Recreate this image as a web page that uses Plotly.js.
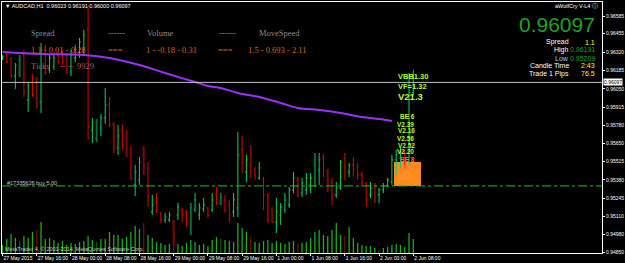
<!DOCTYPE html>
<html><head><meta charset="utf-8">
<script src="https://cdn.plot.ly/plotly-3.0.1.min.js"></script>
<style>html,body{margin:0;padding:0;background:#000;}#chart{width:625px;height:263px;}</style>
</head><body><div id="chart"></div>
<script>
// ---- data (AUDCAD H1) ----
const open = [0.96277,0.96306,0.96262,0.96144,0.96174,0.96299,0.95968,0.96144,0.96122,0.95953,
0.96350,0.96189,0.96211,0.96299,0.96321,0.96299,0.96174,0.96277,0.96299,0.96336,
0.96483,0.95748,0.95689,0.95762,0.95836,0.95931,0.95784,0.95615,0.95748,0.95696,
0.95601,0.95343,0.95380,0.95564,0.95468,0.95145,0.95233,0.95137,0.95086,0.95086,
0.95071,0.95123,0.95160,0.95145,0.95057,0.95160,0.95123,0.95167,0.95174,0.95160,
0.95270,0.95211,0.95233,0.95196,0.95145,0.95174,0.95601,0.95439,0.95601,0.95454,
0.95395,0.95380,0.95270,0.95160,0.95071,0.95123,0.95160,0.95196,0.95307,0.95380,
0.95284,0.95307,0.95343,0.95395,0.95454,0.95542,0.95439,0.95358,0.95270,0.95321,
0.95542,0.95439,0.95490,0.95468,0.95417,0.95358,0.95270,0.95329,0.95270,0.95307,
0.95336,0.95365,0.95527,0.95542,0.95578,0.95527,0.96023];
const high = [0.96299,0.96321,0.96284,0.96240,0.96299,0.96336,0.96100,0.96159,0.96137,0.96387,
0.96372,0.96299,0.96299,0.96313,0.96336,0.96313,0.96336,0.96372,0.96424,0.96483,
0.96666,0.95836,0.95828,0.95865,0.96056,0.95990,0.95806,0.95784,0.95792,0.95748,
0.95630,0.95490,0.95549,0.95630,0.95512,0.95270,0.95284,0.95145,0.95137,0.95145,
0.95086,0.95211,0.95174,0.95160,0.95211,0.95284,0.95211,0.95248,0.95182,0.95284,
0.95329,0.95284,0.95270,0.95233,0.95284,0.95733,0.95703,0.95564,0.95637,0.95476,
0.95512,0.95402,0.95284,0.95182,0.95248,0.95211,0.95284,0.95329,0.95439,0.95402,
0.95395,0.95431,0.95431,0.95578,0.95578,0.95571,0.95461,0.95395,0.95365,0.95527,
0.95578,0.95505,0.95549,0.95505,0.95439,0.95365,0.95365,0.95358,0.95321,0.95358,
0.95395,0.95564,0.95601,0.95615,0.95601,0.96166,0.96191];
const low = [0.96262,0.96240,0.96130,0.96049,0.96137,0.95990,0.95880,0.95990,0.95909,0.95872,
0.96152,0.96166,0.96189,0.96233,0.96225,0.96159,0.96144,0.96247,0.96277,0.96291,
0.95674,0.95652,0.95659,0.95703,0.95792,0.95770,0.95578,0.95564,0.95601,0.95549,
0.95380,0.95262,0.95343,0.95417,0.95182,0.95123,0.95137,0.95064,0.95064,0.95071,
0.94895,0.95086,0.95071,0.95035,0.94976,0.95145,0.95086,0.95145,0.95101,0.95145,
0.95196,0.95196,0.95137,0.95071,0.95108,0.95108,0.95431,0.95365,0.95395,0.95380,
0.95380,0.95160,0.95064,0.95064,0.94990,0.95049,0.95137,0.95174,0.95284,0.95255,
0.95255,0.95270,0.95284,0.95329,0.95343,0.95402,0.95292,0.95196,0.95248,0.95307,
0.95380,0.95402,0.95402,0.95380,0.95329,0.95182,0.95248,0.95211,0.95209,0.95284,
0.95329,0.95343,0.95417,0.95468,0.95454,0.95490,0.96000];
const close = [0.96284,0.96247,0.96144,0.96225,0.96262,0.96027,0.96078,0.96005,0.95983,0.96336,
0.96166,0.96277,0.96277,0.96247,0.96247,0.96189,0.96299,0.96336,0.96394,0.96446,
0.95770,0.95806,0.95806,0.95836,0.95931,0.95784,0.95696,0.95703,0.95637,0.95601,
0.95395,0.95439,0.95512,0.95468,0.95255,0.95196,0.95160,0.95086,0.95108,0.95123,
0.94976,0.95182,0.95123,0.95071,0.95174,0.95233,0.95174,0.95196,0.95123,0.95233,
0.95211,0.95255,0.95160,0.95123,0.95233,0.95564,0.95505,0.95527,0.95439,0.95417,
0.95468,0.95270,0.95086,0.95071,0.95145,0.95182,0.95233,0.95307,0.95395,0.95270,
0.95358,0.95395,0.95395,0.95490,0.95527,0.95454,0.95343,0.95248,0.95321,0.95512,
0.95476,0.95490,0.95454,0.95417,0.95365,0.95233,0.95321,0.95248,0.95307,0.95336,
0.95380,0.95527,0.95564,0.95586,0.95542,0.96023,0.96097];
const volume = [480,840,1140,900,720,1020,900,1260,1380,1860,
840,900,780,600,720,480,600,540,660,720,
1020,780,660,840,840,1260,1080,1080,840,960,
1260,1620,1440,1800,1080,900,660,600,480,540,
720,540,420,600,780,660,480,540,420,780,
960,840,780,720,660,1800,1500,1260,960,660,
600,720,780,600,720,600,540,660,720,540,
600,660,900,1260,1380,1080,1020,1380,1800,1080,
1020,1560,900,600,480,420,420,300,180,300,
360,480,540,480,360,1200,840];
const darkBars = [4,8,15,22,26,29,33,40,44,51,58,62,69,73,76,80,87];
const darkVol = [4,8,22,33,40,51,58,69,80,88];
const maIdx = [0,9,19,25,32,38,45,48,51,55,60,65,69,74,79,84,88,91];
const maVal = [0.96321,0.96306,0.96299,0.96277,0.96225,0.96166,0.96100,0.96071,0.96056,0.96019,
0.95990,0.95946,0.95909,0.95894,0.95872,0.95843,0.95828,0.95814];
const tickIdx = [0,8,16,24,32,40,48,56,64,72,80,88,96];
const tickText = ["27 May 2015","27 May 16:00","28 May 00:00","28 May 08:00","28 May 16:00",
"29 May 00:00","29 May 08:00","29 May 16:00","1 Jun 00:00","1 Jun 08:00","1 Jun 16:00",
"2 Jun 00:00","2 Jun 08:00"];
const yTicks = [0.96585,0.96455,0.96320,0.96185,0.96050,0.95915,0.95780,0.95650,0.95515,
0.95380,0.95245,0.95110,0.94980,0.94850];
const bidPrice = 0.96097;
const orderPrice = 0.95336;
const dayHigh = 0.96191, dayLow = 0.95209;

// ---- build ----
const idx = open.map((_, i) => i);
const keep = f => arr => arr.filter((_, i) => f(i));
const normal = keep(i => !darkBars.includes(i));
const dark = keep(i => darkBars.includes(i));

const W = 625, H = 263;
const px = x => x / W, py = y => 1 - y / H;

const volColors = idx.map(i => darkVol.includes(i) ? (close[i] < open[i] ? '#7a0a0a' : '#0e520e') : '#1cae1c');

const traces = [
  {type:'bar', x: idx, y: volume, yaxis:'y2', width:0.3, marker:{color: volColors, line:{width:0}}, hoverinfo:'skip'},
  {type:'ohlc', x: normal(idx), open: normal(open), high: normal(high), low: normal(low), close: normal(close),
   increasing:{line:{color:'#00d46a', width:1}}, decreasing:{line:{color:'#e00000', width:1}}, tickwidth:0.3, hoverinfo:'skip'},
  {type:'ohlc', x: dark(idx), open: dark(open), high: dark(high), low: dark(low), close: dark(close),
   increasing:{line:{color:'#0c6a38', width:2}}, decreasing:{line:{color:'#7c0808', width:2}}, tickwidth:0.3, hoverinfo:'skip'},
  {type:'scatter', mode:'lines', x: maIdx, y: maVal, line:{color:'#9b30ff', width:2, shape:'spline'}, hoverinfo:'skip'}
];

const sans = 'Liberation Sans, Arial, sans-serif';
const serif = 'Liberation Serif, Times New Roman, serif';
function ann(text, x, y, o) {
  o = o || {};
  return Object.assign({text, x: px(x), y: py(y), xref:'paper', yref:'paper', showarrow:false,
    xanchor: o.xa || 'left', yanchor:'middle',
    font:{family: o.family || sans, size: o.size || 5.5, color: o.color || '#ffffff', weight: o.weight || 'normal'}}, o.extra || {});
}
const gray = '#8c8c8c', orange = '#d2691e', rose = '#b05a5a', yg = '#adff2f', yel = '#ffff00', grn = '#22a022';
const last = open.length - 1;
const info = 7;
const annotations = [
  ann('▼ AUDCAD,H1  ' + [open[last], high[last], low[last], close[last]].map(v => v.toFixed(5)).join(' '), 3, 6),
  ann('aWolfCry V-L4 ⓘ', 600, 6, {xa:'right'}),
  ann('Spread', 29, 33, {family:serif, size:8.5, color:gray}),
  ann('------', 106, 33, {family:serif, size:8.5, color:gray}),
  ann('Volume', 145, 33, {family:serif, size:8.5, color:gray}),
  ann('------', 217, 33, {family:serif, size:8.5, color:gray}),
  ann('MoveSpeed', 257, 33, {family:serif, size:8.5, color:gray}),
  ann('1.1 - 0.01 - 0.28', 29, 50, {family:serif, size:8.5, color:orange}),
  ann('===', 106, 50, {family:serif, size:8.5, color:orange, weight:'bold'}),
  ann('1 - -0.18 - 0.31', 144, 50, {family:serif, size:8.5, color:orange}),
  ann('===', 216, 50, {family:serif, size:8.5, color:orange, weight:'bold'}),
  ann('1.5 - 0.693 - 2.11', 246, 50, {family:serif, size:8.5, color:orange}),
  ann('Ticks', 29, 66, {family:serif, size:8.5, color:rose}),
  ann('-- --', 58, 66, {family:serif, size:8.5, color:rose}),
  ann('9929', 75, 66, {family:serif, size:8.5, color:rose}),
  ann(close[last].toFixed(5), 597, 24, {xa:'right', size:21, color:grn}),
  ann('Spread', 571, 42, {xa:'right', size:info}),
  ann('1.1', 597, 42, {xa:'right', size:info, color:yel}),
  ann('High', 571, 50, {xa:'right', size:info}),
  ann(dayHigh.toFixed(5), 597, 50, {xa:'right', size:info, color:grn}),
  ann('Low', 571, 58, {xa:'right', size:info, color:'#a8c8ff'}),
  ann(dayLow.toFixed(5), 597, 58, {xa:'right', size:info, color:grn}),
  ann('Candle Time', 571, 66, {xa:'right', size:info}),
  ann('2:43', 597, 66, {xa:'right', size:info, color:yel}),
  ann('Trade 1 Pips', 571, 74, {xa:'right', size:info}),
  ann('76.5', 597, 74, {xa:'right', size:info, color:yel}),
  ann('#17335626 buy 5.00', 5, 183, {color:'#c8c8c8'}),
  ann('MetaTrader 4, © 2001-2014, MetaQuotes Software Corp.', 3, 249, {color:'#c8c8c8'}),
  {text: bidPrice.toFixed(5), x: px(603), xref:'paper', y: bidPrice, yref:'y', xanchor:'left', yanchor:'middle',
   showarrow:false, bgcolor:'#ffffff', borderpad:0, font:{family:sans, size:5, color:'#000'}},
  // object labels near the last bars
  ann('VBB1.30', 396, 77, {size:7.5, color:yg, weight:'bold'}),
  ann('VF=1.32', 396, 86, {size:7.5, color:yg, weight:'bold'}),
  ann('V21.3', 396, 96, {size:9.5, color:yg, weight:'bold'}),
  ann('BE 6', 398, 117, {size:6.5, color:yg, weight:'bold'}),
  ann('V2.39', 395, 124, {size:6.5, color:yg, weight:'bold'}),
  ann('V2.16', 396, 131, {size:6.5, color:yg, weight:'bold'}),
  ann('V2.56', 395, 138, {size:6.5, color:yg, weight:'bold'}),
  ann('V2.52', 396, 145, {size:6.5, color:yg, weight:'bold'}),
  ann('V2.20', 395, 152, {size:6.5, color:yg, weight:'bold'}),
  ann('BE 8', 398, 159, {size:6.5, color:'#ff6a6a', weight:'bold'}),
  ann('V1.9', 396, 167, {size:7, color:'#ff7a50', weight:'bold'}),
  ann('V1.6', 396, 176, {size:7, color:'#ff9a40', weight:'bold'})
];

const shapes = [
  {type:'line', xref:'paper', x0: px(2), x1: px(602), yref:'y', y0: bidPrice, y1: bidPrice, line:{color:'#c0c0c0', width:1}},
  {type:'line', xref:'paper', x0: px(2), x1: px(602), yref:'y', y0: orderPrice, y1: orderPrice, line:{color:'#1cc41c', width:1, dash:'dashdot'}},
  {type:'rect', xref:'paper', yref:'paper', x0: px(394), x1: px(421), y0: py(186), y1: py(162), fillcolor:'#ff8c1a', line:{width:0}, layer:'below'}
];

const axFont = {family: sans, size: 5, color: '#ffffff'};
const layout = {
  width: W, height: H, paper_bgcolor:'#000000', plot_bgcolor:'#000000',
  margin:{l:0, r:0, t:0, b:0}, showlegend:false, dragmode:false,
  xaxis:{domain:[px(2), px(602)], range:[-0.12, 140.1], tickvals: tickIdx, ticktext: tickText,
    tickangle:0, ticklabelposition:'outside right', ticks:'outside', ticklen:2, tickcolor:'#ffffff', tickfont: axFont,
    showgrid:false, zeroline:false, showline:true, linecolor:'#ffffff', mirror:true,
    rangeslider:{visible:false}, fixedrange:true},
  yaxis:{domain:[py(253), py(2)], range:[0.94843, 0.96688], side:'right', tickvals: yTicks,
    ticktext: yTicks.map(v => v.toFixed(5)), ticks:'outside', ticklen:2, tickcolor:'#ffffff', tickfont: axFont,
    showgrid:false, zeroline:false, showline:true, linecolor:'#ffffff', mirror:true, fixedrange:true},
  yaxis2:{overlaying:'y', range:[0, 251*60], visible:false, fixedrange:true},
  annotations, shapes
};
Plotly.newPlot('chart', traces, layout, {staticPlot:true, displayModeBar:false});
</script></body></html>
